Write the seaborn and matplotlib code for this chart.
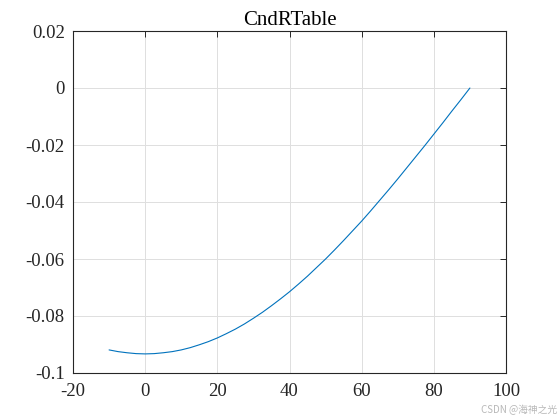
import matplotlib
matplotlib.use("Agg")
import matplotlib.pyplot as plt
import seaborn as sns
import pandas as pd
from matplotlib.ticker import FuncFormatter

# Data
angle = [-10, -7.5, -5, -2.5, 0, 2.5, 5, 7.5, 10, 12.5, 15, 17.5, 20, 22.5, 25, 27.5,
         30, 32.5, 35, 37.5, 40, 42.5, 45, 47.5, 50, 52.5, 55, 57.5, 60, 62.5, 65,
         67.5, 70, 72.5, 75, 77.5, 80, 82.5, 85, 87.5, 90]
value = [-0.0919, -0.0925, -0.0929, -0.0932, -0.0933, -0.0932, -0.0929, -0.0925,
         -0.0919, -0.0911, -0.0901, -0.0890, -0.0877, -0.0862, -0.0846, -0.0828,
         -0.0808, -0.0787, -0.0764, -0.0740, -0.0715, -0.0688, -0.0660, -0.0630,
         -0.0600, -0.0568, -0.0535, -0.0501, -0.0467, -0.0431, -0.0394, -0.0357,
         -0.0319, -0.0280, -0.0241, -0.0202, -0.0162, -0.0122, -0.0081, -0.0041, 0.0]
x_ticks = [-20, 0, 20, 40, 60, 80, 100]
y_ticks = [-0.1, -0.08, -0.06, -0.04, -0.02, 0, 0.02]
title = "CndRTable"

sns.set_theme(style="white")
plt.rcParams["font.family"] = ["Liberation Serif", "DejaVu Serif"]
plt.rcParams["axes.unicode_minus"] = False

fig = plt.figure(figsize=(5.6, 4.2), dpi=100)
ax = fig.add_axes([73 / 560, 1 - 373 / 420, (506 - 73) / 560, (373 - 31) / 420])

df = pd.DataFrame({"angle": angle, "value": value})
sns.lineplot(data=df, x="angle", y="value", ax=ax, color="#0072BD", linewidth=0.8)

ax.set_xlim(-20, 100)
ax.set_ylim(-0.1, 0.02)
ax.set_xticks(x_ticks)
ax.set_yticks(y_ticks)
fmt = FuncFormatter(lambda v, p: "%g" % round(v, 6))
ax.xaxis.set_major_formatter(fmt)
ax.yaxis.set_major_formatter(fmt)
ax.set_xlabel("")
ax.set_ylabel("")
ax.grid(True, color="#dfdfdf", linewidth=0.7)
ax.set_axisbelow(True)
ax.tick_params(direction="in", length=4, width=0.7, color="#262626",
               top=True, right=True, labelsize=13.5, labelcolor="#262626")
ax.tick_params(axis="x", pad=7)
ax.tick_params(axis="y", pad=6)
for s in ax.spines.values():
    s.set_color("#262626")
    s.set_linewidth(0.8)
ax.set_title(title, fontsize=15, color="black", pad=4)

fig.text(0.995, 0.012, "CSDN @海神之光", ha="right", va="bottom", fontsize=7,
         color="#b8b8b8", family=["Noto Sans CJK SC", "DejaVu Sans"])

fig.savefig("out.png", dpi=100, facecolor="white")
